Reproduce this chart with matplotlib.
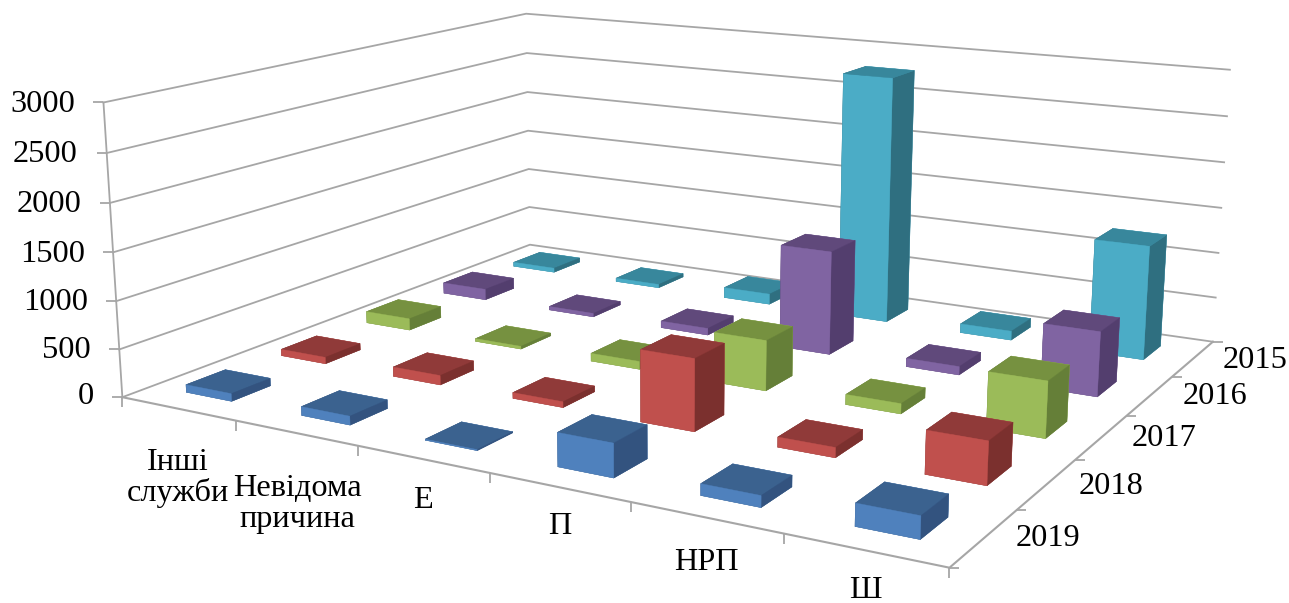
import matplotlib
matplotlib.use("Agg")
import matplotlib.pyplot as plt
from matplotlib.markers import TICKLEFT, TICKDOWN, TICKRIGHT
from matplotlib.transforms import IdentityTransform

categories = ["Інші\nслужби", "Невідома\nпричина", "Е", "П", "НРП", "Ш"]
years = ["2019", "2018", "2017", "2016", "2015"]
z_ticks = [0, 500, 1000, 1500, 2000, 2500, 3000]

v2019 = [80, 90, 10, 330, 110, 210]
v2018 = [70, 100, 60, 730, 100, 420]
v2017 = [130, 30, 85, 530, 105, 570]
v2016 = [125, 40, 75, 1130, 90, 680]
v2015 = [50, 40, 120, 2780, 100, 1240]
series = [v2019, v2018, v2017, v2016, v2015]

W, H = 1289, 603
fig = plt.figure(figsize=(W / 100, H / 100), dpi=100, facecolor="white")

L, B, S = 82.72, -224.59, 1136.78
ax = fig.add_axes([L / W, B / H, S / W, S / H], projection="3d", computed_zorder=False)
ax.set_axis_off()
ax.view_init(elev=13.783, azim=-60.001, roll=0.043)
ax.set_proj_type("persp", focal_length=0.3493)
ax.set_box_aspect((2.2343, 1.8507, 0.7503))
cx, cy, cz = 2.9272, 2.2881, 1397.27
ax.set_xlim(cx - 3, cx + 3)
ax.set_ylim(cy - 2.5, cy + 2.5)
ax.set_zlim(cz - 1500, cz + 1500)

# walls, floor edges and tick marks
grid = "#A6A6A6"
nx, ny = len(categories), len(years)
line = dict(color=grid, zorder=1, clip_on=False)
for z in z_ticks:
    ax.plot([0, 0, nx], [0, ny, ny], [z, z, z], lw=1.3, **line)
ax.plot([0, nx, nx], [0, 0, ny], [0, 0, 0], lw=1.5, **line)
ax.plot([0, 0], [0, 0], [0, z_ticks[-1]], lw=1.3, **line)
ticks = dict(ls="", ms=7.5, mew=1.3, **line)
ax.plot([0] * len(z_ticks), [0] * len(z_ticks), z_ticks, marker=TICKLEFT, **ticks)
ax.plot(range(nx + 1), [0] * (nx + 1), [0] * (nx + 1), marker=TICKDOWN, **ticks)
ax.plot([nx] * (ny + 1), range(ny + 1), [0] * (ny + 1), marker=TICKRIGHT, **ticks)

# one (front, top, side) shade triple per year
palette = [("#4F81BD", "#3B628F", "#33537F"), ("#C0504D", "#903A39", "#7B302E"), ("#9BBB59", "#769140", "#657F38"),
           ("#8064A2", "#60497B", "#533E6E"), ("#4BACC6", "#38879C", "#2F6F80")]
bw, bd = 0.40, 0.40
order = 10
# painted from the back row forward, left to right
for j in range(ny - 1, -1, -1):
    front, top, side = palette[j]
    faces = [top, top, front, front, side, side]
    for i in range(nx):
        ax.bar3d(i + 0.5 - bw / 2, j + 0.5 - bd / 2, 0, bw, bd, series[j][i],
                 color=faces, edgecolor=faces, linewidth=0.3, shade=False, zorder=order)
        order += 1

font = dict(family="Liberation Serif", size=23.3, color="black", transform=IdentityTransform())

def label(px, py, s, ha="center"):
    fig.text(px, H - py, s, ha=ha, va="center", linespacing=1.08, **font)

for s_, xr, yc in zip(["0", "500", "1000", "1500", "2000", "2500", "3000"],
                      [94, 91, 88, 85, 81, 78, 75], [397, 350, 303, 254, 204, 154, 104]):
    label(xr, yc, s_, ha="right")
for s_, xc, yc in zip(years, [1048, 1111, 1164, 1215, 1255], [538, 486, 438, 397, 360]):
    label(xc, yc, s_)
for s_, xc, yc in zip(categories, [178, 297, 423, 560, 706, 865], [478, 504, 500, 527, 562, 591]):
    label(xc, yc, s_)

fig.savefig("out.png", dpi=100)
